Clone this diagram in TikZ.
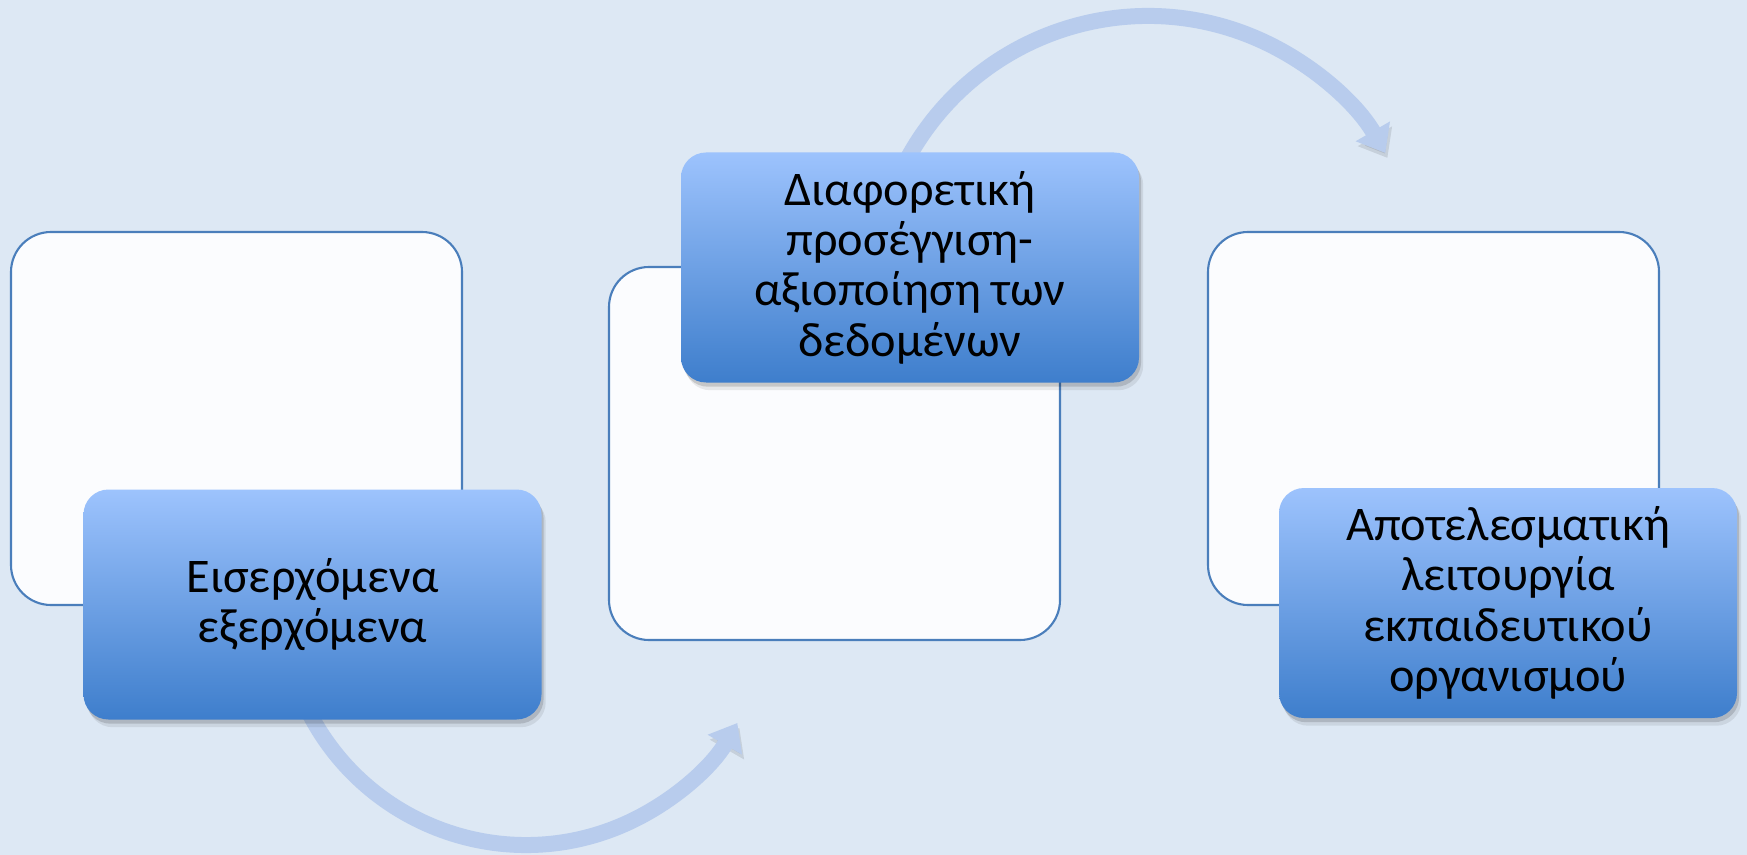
\documentclass[tikz,border=0pt]{standalone}
\usepackage{fontspec}
\setmainfont{Carlito}
\usetikzlibrary{arrows.meta, shadows, calc}
\definecolor{bgblue}{HTML}{DDE8F4}
\definecolor{panelfill}{HTML}{FBFCFE}
\definecolor{panelline}{HTML}{4A7EBB}
\definecolor{tagtop}{HTML}{9DC3FD}
\definecolor{tagbot}{HTML}{3E7ECC}
\definecolor{arrowcol}{HTML}{B8CCED}
\tikzset{
    panel/.style={rectangle, draw=panelline, fill=panelfill, line width=0.6pt, rounded corners=0.4cm, minimum width=4.51cm, minimum height=3.73cm, outer sep=0pt},
    tagbox/.style={rectangle, rounded corners=0.25cm, top color=tagtop, bottom color=tagbot, minimum width=4.58cm, minimum height=2.3cm, align=center, outer sep=0pt, font=\fontsize{13.75}{14.3}\selectfont,
        drop shadow={shadow xshift=1.2pt, shadow yshift=-2.2pt, opacity=0.08, fill=black},
        drop shadow={shadow xshift=0.6pt, shadow yshift=-1.2pt, opacity=0.14, fill=black}},
    cyclearrow/.style={draw=arrowcol, line width=0.16cm, -{Triangle[length=0.25cm, width=0.38cm]}, preaction={draw=black, opacity=0.1, transform canvas={xshift=0.6pt, yshift=-1.4pt}}},
}

\begin{document}
\begin{tikzpicture}
    % background
    \fill[bgblue] (0,0) rectangle (17.47,-8.55);
    \useasboundingbox (0,0) rectangle (17.47,-8.55);

    % empty panels
    \node[panel] (inbox) at (2.365,-4.185) {};
    \node[panel] (usebox) at (8.345,-4.535) {};
    \node[panel] (effbox) at (14.335,-4.185) {};

    % arrows (ends hidden under the tags)
    \coordinate (lowstart) at ($(5.26,-6.01)+(205:2.44)$);
    \coordinate (highstart) at ($(11.48,-2.90)+(155:2.74)$);
    \draw[cyclearrow] (lowstart) arc[start angle=205, end angle=330, radius=2.44];
    \draw[cyclearrow] (highstart) arc[start angle=155, end angle=30, radius=2.74];

    % tags
    \node[tagbox] (flow) at (3.125,-6.045) {Εισερχόμενα\\εξερχόμενα};
    \node[tagbox] (approach) at (9.10,-2.675) {Διαφορετική\\προσέγγιση-\\αξιοποίηση των\\δεδομένων};
    \node[tagbox] (result) at (15.08,-6.03) {Αποτελεσματική\\λειτουργία\\εκπαιδευτικού\\οργανισμού};
\end{tikzpicture}
\end{document}
